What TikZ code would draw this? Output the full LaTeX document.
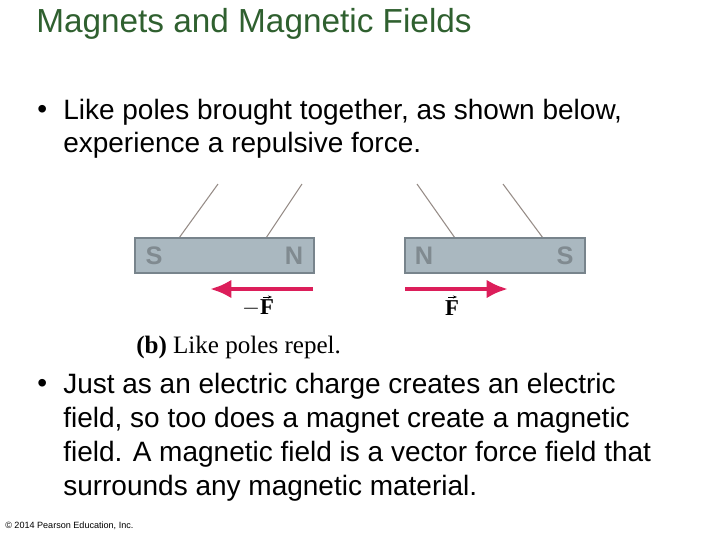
\documentclass[tikz,border=0pt]{standalone}
\usepackage{fontspec}
\setmainfont{Liberation Sans}
\newfontfamily\serifb{Liberation Serif}
\definecolor{title}{RGB}{47,96,47}
\definecolor{mag}{RGB}{170,184,192}
\definecolor{magedge}{RGB}{120,132,140}
\definecolor{force}{RGB}{220,30,90}
\definecolor{strg}{RGB}{150,140,135}
\begin{document}
\begin{tikzpicture}[x=0.75pt,y=-0.75pt,
  body/.style={font=\fontsize{21}{25}\selectfont, anchor=west, inner sep=0},
  magnet/.style={fill=mag, draw=magedge, line width=1pt},
  pole/.style={font=\bfseries\fontsize{19}{19}\selectfont, text=mag!75!black, inner sep=0},
  strng/.style={draw=strg, line width=0.8pt},
  farrow/.style={draw=force, line width=3.5pt, -{Latex[length=16pt,width=14pt]}},
  flabel/.style={font=\serifb\fontsize{17}{17}\selectfont, inner sep=0}]
\usetikzlibrary{arrows.meta}
\path[use as bounding box] (0,0) rectangle (720,540);
\node[anchor=west, inner sep=0, text=title, font=\fontsize{25}{28}\selectfont] (t) at (36,24) {Magnets and Magnetic Fields};
\node[body] (b1) at (37,112) {•};
\node[body] (l1) at (63,112) {Like poles brought together, as shown below,};
\node[body] (l2) at (63,145) {experience a repulsive force.};
\node[body] (b2) at (37,386) {•};
\node[body] (l3) at (63,386) {Just as an electric charge creates an electric};
\node[body] (l4) at (63,420) {field, so too does a magnet create a magnetic};
\node[body] (l5) at (63,454) {field. A magnetic field is a vector force field that};
\node[body] (l6) at (63,488) {surrounds any magnetic material.};
\node[anchor=west, inner sep=0, font=\fontsize{6.8}{8}\selectfont] (c) at (5,526) {© 2014 Pearson Education, Inc.};
% strings
\coordinate (s1t) at (218,184); \coordinate (s1b) at (179,238);
\coordinate (s2t) at (302,184); \coordinate (s2b) at (266,238);
\coordinate (s3t) at (417,184); \coordinate (s3b) at (455,238);
\coordinate (s4t) at (503,184); \coordinate (s4b) at (543,238);
\draw[strng] (s1t) -- (s1b); \draw[strng] (s2t) -- (s2b);
\draw[strng] (s3t) -- (s3b); \draw[strng] (s4t) -- (s4b);
% magnets
\draw[magnet] (135,238) rectangle (314,273);
\draw[magnet] (405,238) rectangle (585,273);
\node[pole] (ls) at (154,256) {S};
\node[pole] (ln) at (294,256) {N};
\node[pole] (rn) at (424,256) {N};
\node[pole] (rs) at (565,256) {S};
% forces
\coordinate (a1) at (313,289); \coordinate (a2) at (210,289);
\coordinate (a3) at (405,289); \coordinate (a4) at (508,289);
\draw[farrow] (a1) -- (a2);
\draw[farrow] (a3) -- (a4);
\node[flabel] (f1) at (258,308) {$-$\textbf{F}};
\node[flabel] (f2) at (452,308) {\textbf{F}};
\draw[-{Stealth[length=3pt]}, line width=0.4pt] (263,297) -- (272,297);
\draw[-{Stealth[length=3pt]}, line width=0.4pt] (448,297) -- (457,297);
\node[anchor=west, inner sep=0, font=\serifb\fontsize{18.8}{19}\selectfont] (cap) at (136,347) {\textbf{(b)} Like poles repel.};
\end{tikzpicture}
\end{document}
